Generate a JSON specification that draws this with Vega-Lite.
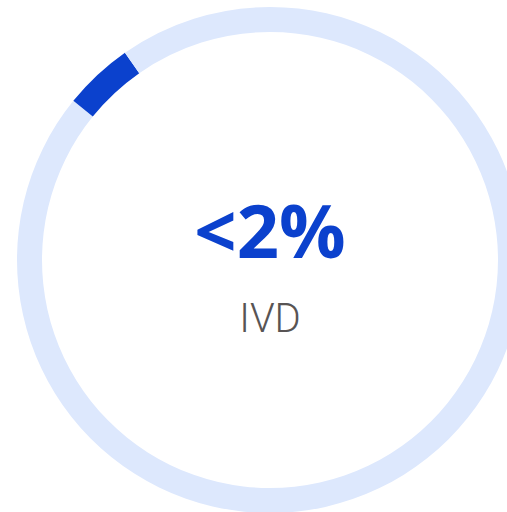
{
  "$schema": "https://vega.github.io/schema/vega-lite/v6.json",
  "width": 507,
  "height": 512,
  "autosize": {"type": "fit", "contains": "padding"},
  "padding": {"left": 33, "top": 8, "right": 0, "bottom": 0},
  "background": "white",
  "view": {"stroke": null},
  "layer": [
    {
      "data": {"values": [
        {"segment": "Other (start)", "kind": "other", "value": 85.83, "order": 1},
        {"segment": "IVD", "kind": "ivd", "value": 4.45, "order": 2},
        {"segment": "Other (end)", "kind": "other", "value": 9.72, "order": 3}
      ]},
      "mark": {"type": "arc", "innerRadius": 228, "outerRadius": 253},
      "encoding": {
        "theta": {"field": "value", "type": "quantitative", "stack": true},
        "order": {"field": "order", "type": "quantitative"},
        "color": {
          "field": "kind", "type": "nominal",
          "scale": {"domain": ["other", "ivd"], "range": ["#dde8fd", "#0b41cd"]},
          "legend": null
        }
      }
    },
    {
      "data": {"values": [{"label": "<2%"}]},
      "mark": {"type": "text", "font": "Open Sans", "fontWeight": "bold", "fontSize": 74, "color": "#0b41cd", "baseline": "alphabetic", "align": "center", "dy": -2},
      "encoding": {"text": {"field": "label", "type": "nominal"}}
    },
    {
      "data": {"values": [{"label": "IVD"}]},
      "mark": {"type": "text", "font": "Roboto", "fontWeight": 300, "fontSize": 40, "color": "#585454", "baseline": "alphabetic", "align": "center", "dy": 72},
      "encoding": {"text": {"field": "label", "type": "nominal"}}
    }
  ]
}
